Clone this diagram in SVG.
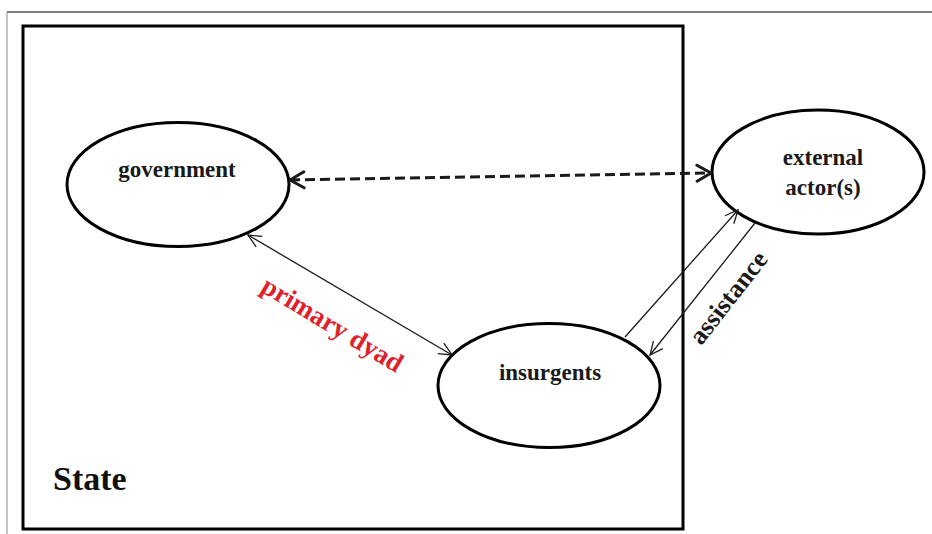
<svg xmlns="http://www.w3.org/2000/svg" width="932" height="534" viewBox="0 0 932 534">
  <style>
    .node { fill: #ffffff; stroke: #000000; stroke-width: 3; }
    .lbl { font-family: "Liberation Serif", "Times New Roman", serif; font-weight: bold; font-size: 23px; fill: #1a1a1a; text-anchor: middle; }
    .thin { stroke: #1a1a1a; stroke-width: 1.3; fill: none; }
    .dash { stroke: #1a1a1a; stroke-width: 3; fill: none; stroke-dasharray: 10 5; }
  </style>
  <defs>
    <marker id="headThick" markerUnits="userSpaceOnUse" viewBox="0 0 20 20" refX="16" refY="10" markerWidth="20" markerHeight="20" orient="auto-start-reverse">
      <path d="M2,2 L16,10 L2,18" fill="none" stroke="#1a1a1a" stroke-width="3" stroke-linecap="round" stroke-linejoin="round"/>
    </marker>
    <marker id="headThin" markerUnits="userSpaceOnUse" viewBox="0 0 16 16" refX="14" refY="8" markerWidth="16" markerHeight="16" orient="auto-start-reverse">
      <path d="M1,2 L14,8 L1,14" fill="none" stroke="#1a1a1a" stroke-width="1.3"/>
    </marker>
  </defs>
  <rect width="932" height="534" fill="#ffffff"/>
  <g id="frame">
    <line x1="7" y1="12" x2="932" y2="12" stroke="#000000" stroke-width="1.2"/>
    <line x1="7" y1="12" x2="7" y2="534" stroke="#9a9a9a" stroke-width="1.2"/>
  </g>
  <g id="state">
    <rect x="23" y="26" width="660" height="503" fill="none" stroke="#000000" stroke-width="3"/>
    <text x="53" y="490" style="font-family: 'Liberation Serif', 'Times New Roman', serif; font-weight: bold; font-size: 34px; fill: #111111;">State</text>
  </g>
  <g id="government">
    <ellipse class="node" cx="178" cy="184.5" rx="111" ry="62"/>
    <text class="lbl" x="177" y="177">government</text>
  </g>
  <g id="insurgents">
    <ellipse class="node" cx="549" cy="385.5" rx="111" ry="62"/>
    <text class="lbl" x="550" y="380">insurgents</text>
  </g>
  <g id="external">
    <ellipse class="node" cx="818" cy="172" rx="106" ry="62"/>
    <text class="lbl" x="823" y="165">external</text>
    <text class="lbl" x="823" y="195">actor(s)</text>
  </g>
  <g id="connectors">
    <line class="dash" x1="290" y1="180" x2="711" y2="173" marker-start="url(#headThick)" marker-end="url(#headThick)"/>
    <line class="thin" x1="248" y1="235" x2="452" y2="355" marker-start="url(#headThin)" marker-end="url(#headThin)"/>
    <line class="thin" x1="625" y1="337" x2="738" y2="210" marker-end="url(#headThin)"/>
    <line class="thin" x1="755" y1="223" x2="650" y2="355" marker-end="url(#headThin)"/>
  </g>
  <g id="labels">
    <text x="328" y="332" transform="rotate(31 328 332)" style="font-family: 'Liberation Serif', 'Times New Roman', serif; font-weight: bold; font-size: 27px; fill: #e0202a; text-anchor: middle;">primary dyad</text>
    <text x="735" y="303" transform="rotate(-52 735 303)" style="font-family: 'Liberation Serif', 'Times New Roman', serif; font-weight: bold; font-size: 26px; fill: #1a1a1a; text-anchor: middle;">assistance</text>
  </g>
</svg>
